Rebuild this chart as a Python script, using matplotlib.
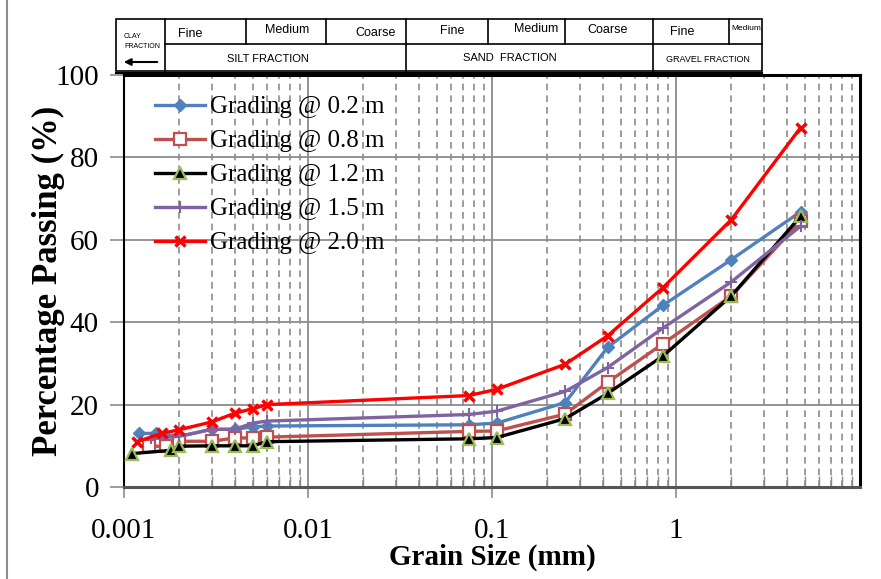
import matplotlib
matplotlib.use("Agg")
import matplotlib.pyplot as plt
from matplotlib.lines import Line2D
from matplotlib.patches import Rectangle, FancyArrowPatch
from matplotlib.ticker import LogLocator, FixedLocator, NullFormatter

# sieve part (common for every depth)
sieve_mm = [0.075, 0.106, 0.25, 0.425, 0.85, 2.0, 4.75]

# hydrometer part, per depth
hydro_02_mm = [0.0012, 0.0015, 0.002, 0.003, 0.004, 0.005, 0.006]
hydro_08_mm = [0.00137, 0.0017, 0.002, 0.003, 0.004, 0.005, 0.006]
hydro_12_mm = [0.0011, 0.0018, 0.002, 0.003, 0.004, 0.005, 0.006]
hydro_15_mm = [0.0014, 0.002, 0.003, 0.004, 0.005, 0.006]
hydro_20_mm = [0.00118, 0.0016, 0.002, 0.003, 0.004, 0.005, 0.006]

passing_02 = [13.0, 13.0, 12.3, 14.0, 14.0, 14.6, 14.8, 15.1, 15.5, 20.5, 33.9, 44.1, 55.2, 66.8]
passing_08 = [9.9, 9.9, 11.1, 11.1, 11.9, 11.9, 12.1, 13.5, 13.6, 17.7, 25.4, 34.8, 46.4, 64.5]
passing_12 = [8.1, 8.9, 9.9, 10.0, 10.0, 10.0, 11.0, 11.7, 12.0, 16.6, 22.7, 31.8, 46.4, 65.7]
passing_15 = [11.8, 12.3, 14.0, 14.0, 15.5, 16.0, 17.6, 18.4, 23.2, 29.0, 38.6, 49.8, 63.3]
passing_20 = [11.0, 13.0, 13.9, 15.8, 17.9, 19.0, 20.0, 22.2, 23.7, 29.8, 36.7, 48.4, 64.9, 87.2]

labels = ["Grading @ 0.2 m", "Grading @ 0.8 m", "Grading @ 1.2 m",
          "Grading @ 1.5 m", "Grading @ 2.0 m"]

W, H = 881, 579
fig = plt.figure(figsize=(W / 100, H / 100), dpi=100)


def fx(px):
    return px / W


def fy(py):
    return 1 - py / H


ax = fig.add_axes([fx(124), fy(487), fx(860) - fx(124), fy(75) - fy(487)])
ax.set_xscale("log")
ax.set_xlim(0.001, 10)
ax.set_ylim(0, 100)

serif = "Liberation Serif"
sans = "Liberation Sans"

styles = [
    dict(color="#4F81BD", marker="D", ms=6, mfc="#4F81BD", mec="#4F81BD"),
    dict(color="#C0504D", marker="s", ms=8, mfc="white", mec="#C0504D", mew=1.6),
    dict(color="black", marker="^", ms=8, mfc="black", mec="#9BBB59", mew=1.6),
    dict(color="#8064A2", marker="+", ms=8, mec="#8064A2", mew=1.5),
    dict(color="red", marker="x", ms=7, mec="red", mew=2.5),
]
xs = [hydro_02_mm + sieve_mm, hydro_08_mm + sieve_mm, hydro_12_mm + sieve_mm,
      hydro_15_mm + sieve_mm, hydro_20_mm + sieve_mm]
ys = [passing_02, passing_08, passing_12, passing_15, passing_20]

for x, y, lab, st in zip(xs, ys, labels, styles):
    ax.plot(x, y, lw=2.4, label=lab, zorder=3, **st)

# grid
ax.yaxis.set_major_locator(FixedLocator([0, 20, 40, 60, 80, 100]))
ax.xaxis.set_major_locator(LogLocator(base=10, numticks=10))
ax.xaxis.set_minor_locator(LogLocator(base=10, subs=range(2, 10), numticks=50))
ax.xaxis.set_minor_formatter(NullFormatter())
ax.grid(True, which="major", axis="both", color="#8c8c8c", lw=1.3)
ax.grid(True, which="minor", axis="x", color="#8c8c8c", lw=1.2, ls=(0, (4, 3)))
ax.set_axisbelow(True)

ax.set_xticks([0.001, 0.01, 0.1, 1])
ax.set_xticklabels(["0.001", "0.01", "0.1", "1"])
ax.tick_params(axis="x", which="major", direction="out", length=8, width=1.2,
               color="#8c8c8c", pad=14, labelsize=21)
ax.tick_params(axis="x", which="minor", direction="in", length=8, width=1.0,
               color="#8c8c8c")
ax.tick_params(axis="y", which="major", direction="out", length=10, width=1.2,
               color="#8c8c8c", pad=8, labelsize=21)
for t in ax.get_xticklabels() + ax.get_yticklabels():
    t.set_fontfamily(serif)

for side in ["left", "top", "right"]:
    ax.spines[side].set_color("black")
ax.spines["left"].set_linewidth(1.5)
ax.spines["top"].set_linewidth(2.2)
ax.spines["right"].set_linewidth(2.2)
ax.spines["bottom"].set_color("#555555")
ax.spines["bottom"].set_linewidth(2.2)

ax.set_xlabel("Grain Size (mm)", fontfamily=serif, fontsize=21,
              fontweight="bold", va="center")
ax.xaxis.set_label_coords(0.5, (487 - 557) / 412)
ax.set_ylabel("Percentage Passing (%)", fontfamily=serif, fontsize=25,
              fontweight="bold", va="center")
ax.yaxis.set_label_coords((48 - 124) / 736, 0.5)

leg = ax.legend(loc="upper left", bbox_to_anchor=(fx(145), fy(86)),
                bbox_transform=fig.transFigure, frameon=False,
                prop={"family": serif, "size": 18}, handlelength=2.0,
                handletextpad=0.2, labelspacing=0.46, borderaxespad=0)

# left border of chart area
fig.add_artist(Line2D([fx(7), fx(7)], [0, 1], color="#8c8c8c", lw=1.5))

# soil classification header table
tk = dict(color="black", lw=1.2)
fig.add_artist(Rectangle((fx(116), fy(71)), fx(762) - fx(116), fy(19) - fy(71),
                         fill=False, ec="black", lw=1.2))
fig.add_artist(Line2D([fx(116), fx(762)], [fy(73), fy(73)], color="black", lw=1.5))
fig.add_artist(Line2D([fx(165), fx(762)], [fy(44), fy(44)], **tk))
for px in [165, 406, 653]:
    fig.add_artist(Line2D([fx(px), fx(px)], [fy(19), fy(71)], **tk))
for px in [246, 326, 488, 565, 729]:
    fig.add_artist(Line2D([fx(px), fx(px)], [fy(19), fy(44)], **tk))

cell = dict(family=sans, fontsize=9, va="center")
row2 = dict(family=sans, fontsize=8, va="center")
fig.text(fx(178), fy(34), "Fine", ha="left", **cell)
fig.text(fx(287), fy(30), "Medium", ha="center", **cell)
fig.text(fx(396), fy(33), "Coarse", ha="right", **cell)
fig.text(fx(452), fy(31), "Fine", ha="center", **cell)
fig.text(fx(536), fy(29), "Medium", ha="center", **cell)
fig.text(fx(608), fy(30), "Coarse", ha="center", **cell)
fig.text(fx(682), fy(32), "Fine", ha="center", **cell)
fig.text(fx(746), fy(29), "Medium", ha="center", family=sans, fontsize=6,
         va="center")
fig.text(fx(268), fy(59), "SILT FRACTION", ha="center", **row2)
fig.text(fx(510), fy(58), "SAND  FRACTION", ha="center", **row2)
fig.text(fx(708), fy(60), "GRAVEL FRACTION", ha="center", family=sans,
         fontsize=6.5, va="center")
fig.text(fx(124), fy(36), "CLAY", ha="left", family=sans, fontsize=5, va="center")
fig.text(fx(124), fy(46), "FRACTION", ha="left", family=sans, fontsize=5,
         va="center")
fig.add_artist(FancyArrowPatch((fx(160), fy(62)), (fx(121), fy(62)),
                               transform=fig.transFigure, arrowstyle="-|>",
                               mutation_scale=10, color="black", lw=1.5))

fig.savefig("out.png", dpi=100)
